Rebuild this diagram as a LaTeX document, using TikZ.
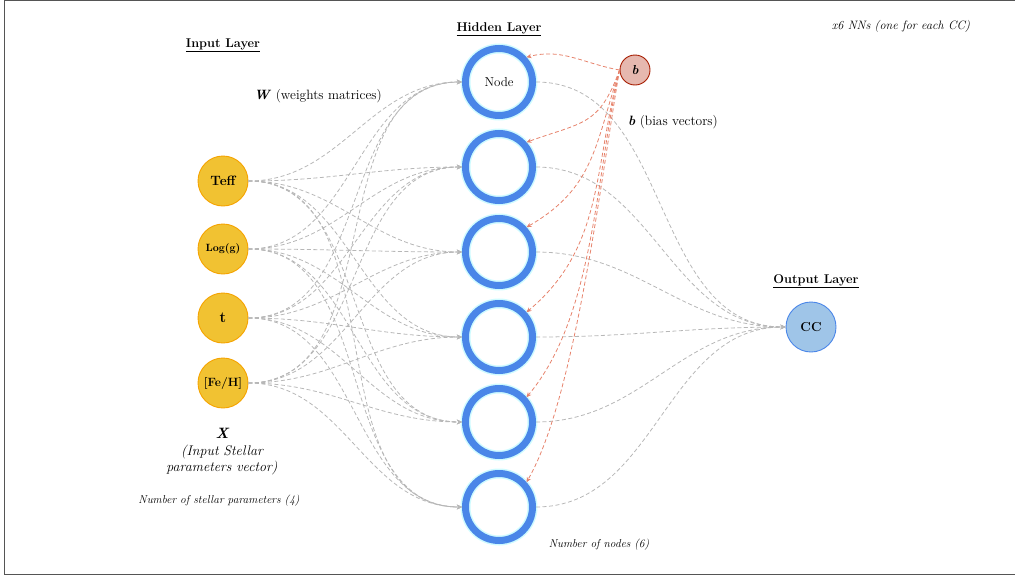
\documentclass[tikz,border=0pt]{standalone}
\usepackage{fontspec}
\usetikzlibrary{arrows.meta}
\definecolor{inpfill}{HTML}{F1C232}
\definecolor{inpdraw}{HTML}{F5A300}
\definecolor{hidblue}{HTML}{4A86E8}
\definecolor{glow}{HTML}{CFFBFF}
\definecolor{bfill}{HTML}{E6B8AF}
\definecolor{bdraw}{HTML}{A61C00}
\definecolor{ccfill}{HTML}{9FC5E8}
\definecolor{ccdraw}{HTML}{4A86E8}
\definecolor{wiregray}{HTML}{B7B7B7}
\definecolor{wirered}{HTML}{E6826B}
\definecolor{framec}{HTML}{555555}
\begin{document}
\begin{tikzpicture}[x=1pt,y=1pt,
  inp/.style={circle, minimum size=50pt, inner sep=0pt, fill=inpfill, draw=inpdraw, line width=0.9pt, font=\bfseries\fontsize{13.5pt}{15pt}\selectfont},
  hid/.style={circle, minimum size=67pt, inner sep=0pt, draw=hidblue, line width=7pt, preaction={draw=glow, line width=10pt}, font=\fontsize{13pt}{15pt}\selectfont},
  bnode/.style={circle, minimum size=30pt, inner sep=0pt, fill=bfill, draw=bdraw, line width=0.9pt, font=\bfseries\itshape\fontsize{13pt}{14pt}\selectfont},
  ccnode/.style={circle, minimum size=50pt, inner sep=0pt, fill=ccfill, draw=ccdraw, line width=0.9pt, font=\bfseries\fontsize{13pt}{15pt}\selectfont},
  layer/.style={font=\bfseries\fontsize{12.7pt}{15pt}\selectfont, inner sep=0pt},
  lbl/.style={font=\fontsize{13.5pt}{16pt}\selectfont, inner sep=0pt},
  note/.style={font=\itshape\fontsize{11.4pt}{14pt}\selectfont, inner sep=0pt},
  wire/.style={draw=wiregray, line width=0.8pt, dash pattern=on 4pt off 2.5pt, -{Stealth[length=5pt,width=4.5pt]}},
  bwire/.style={draw=wirered, line width=0.8pt, dash pattern=on 4pt off 2.5pt, -{Stealth[length=5pt,width=4.5pt]}}
]
\useasboundingbox (0,0) rectangle (1015,-576);
\draw[framec, line width=1pt] (1016,-0.5) -- (4.5,-0.5) -- (4.5,-574) -- (1016,-574);

% input nodes
\node[inp] (i1) at (223,-181) {Teff};
\node[inp, font=\bfseries\fontsize{10.5pt}{12pt}\selectfont] (i2) at (223,-249) {Log(g)};
\node[inp, font=\bfseries\fontsize{15pt}{17pt}\selectfont] (i3) at (223,-318) {t};
\node[inp, font=\bfseries\fontsize{12pt}{14pt}\selectfont] (i4) at (223,-383) {[Fe/H]};

% hidden nodes
\node[hid] (h1) at (499,-82) {Node};
\node[hid] (h2) at (499,-167) {};
\node[hid] (h3) at (499,-252) {};
\node[hid] (h4) at (499,-337) {};
\node[hid] (h5) at (499,-422) {};
\node[hid] (h6) at (499,-507) {};

% bias and output
\node[bnode] (b) at (635,-70) {b};
\node[ccnode] (cc) at (811,-327) {CC};

% labels
\node[layer] (tin) at (223,-45) {\underline{Input Layer}};
\node[layer] (thid) at (499,-29) {\underline{Hidden Layer}};
\node[layer] (tout) at (816,-281) {\underline{Output Layer}};
\node[note, font=\itshape\fontsize{12.2pt}{14pt}\selectfont] (tnn) at (901,-26) {x6 NNs (one for each CC)};
\node[lbl] (tw) at (318,-96) {\textbf{\textit{W}} (weights matrices)};
\node[lbl] (tb) at (673,-122) {\textbf{\textit{b}} (bias vectors)};
\node[lbl, font=\bfseries\itshape\fontsize{15pt}{17pt}\selectfont] (tx) at (222,-433) {X};
\node[lbl, font=\itshape\fontsize{14pt}{16pt}\selectfont, align=center] (tvec) at (222,-460) {(Input Stellar\\parameters vector)};
\node[note] (tnum) at (219,-501) {Number of stellar parameters (4)};
\node[note] (tnodes) at (599,-545) {Number of nodes (6)};

% input -> hidden
\foreach \i in {1,...,4}{
  \foreach \h in {1,...,6}{
    \draw[wire] (i\i.east) to[out=0,in=180] (h\h.west);
  }
}
% hidden -> output
\foreach \h in {1,...,6}{
  \draw[wire] (h\h.east) to[out=0,in=180] (cc.west);
}
% bias -> hidden
\draw[bwire] (b.west) to[out=170,in=15] (h1.42);
\draw[bwire] (b.west) to[out=250,in=20,looseness=1.3] (h2.42);
\draw[bwire] (b.west) to[out=252,in=30,looseness=1.1] (h3.42);
\draw[bwire] (b.west) to[out=255,in=40,looseness=1] (h4.42);
\draw[bwire] (b.west) to[out=257,in=50,looseness=0.8] (h5.42);
\draw[bwire] (b.west) to[out=260,in=60,looseness=0.6] (h6.42);
\end{tikzpicture}
\end{document}
